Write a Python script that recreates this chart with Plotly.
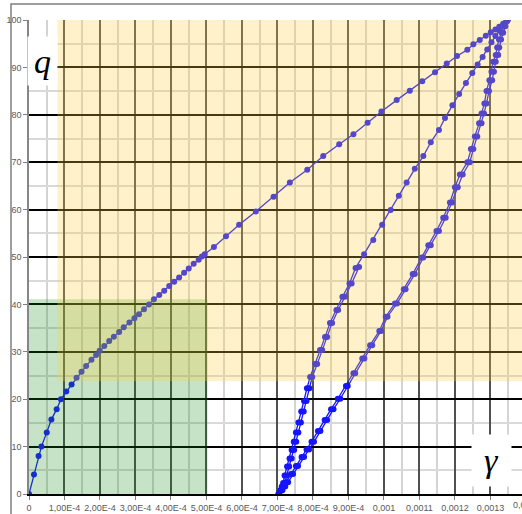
import numpy as np
import plotly.graph_objects as go

load_g = [0, 0.14, 0.27, 0.35, 0.50, 0.63, 0.78, 0.90, 1.05, 1.20, 1.34, 1.48, 1.61,
          1.76, 1.89, 1.99, 2.12, 2.26, 2.39, 2.54, 2.67, 2.83, 2.97, 3.10, 3.24, 3.38,
          3.52, 3.67, 3.81, 3.95, 4.09, 4.23, 4.37, 4.50, 4.64, 4.78, 4.87, 4.95, 5.21,
          5.55, 5.92, 6.39, 6.89, 7.35, 7.84, 8.29, 8.74, 9.14, 9.54, 9.93, 10.36, 10.73,
          11.08, 11.44, 11.77, 12.06, 12.35, 12.52, 12.70, 12.87, 13.01, 13.14, 13.25,
          13.36, 13.44, 13.48]
load_q = [0, 4.1, 8.0, 10.0, 13.0, 15.7, 17.9, 20.0, 21.6, 23.1, 24.5, 25.8, 27.0,
          28.3, 29.3, 30.2, 31.2, 32.3, 33.2, 34.2, 35.2, 36.2, 37.1, 37.9, 39.0, 40.0,
          41.1, 42.0, 42.9, 43.9, 44.8, 45.7, 46.7, 47.6, 48.6, 49.4, 50.1, 50.6, 52.1,
          54.4, 56.8, 59.6, 62.7, 65.7, 68.4, 71.3, 73.8, 75.9, 78.3, 80.7, 83.1, 85.1,
          87.1, 89.0, 90.8, 92.4, 93.7, 94.9, 95.8, 96.7, 97.4, 98.0, 98.6, 99.2, 99.6,
          99.9]

# outer (flatter) loop: unloading and reloading branches
outer_q = [0, 0.8, 1.6, 2.5, 4.2, 5.9, 7.8, 9.4, 11.0, 13.3, 15.6, 17.9, 20.1, 22.8,
           25.5, 28.6, 31.4, 34.4, 37.4, 40.2, 43.2, 46.4, 49.9, 52.5, 55.5, 58.3, 61.5,
           64.7, 67.4, 70.0, 72.8, 75.4, 78.2, 80.3, 82.4, 85.0, 87.3, 89.1, 91.2, 92.6,
           94.2, 95.9, 97.3, 98.7, 99.9]
outer_down_g = [7.03, 7.10, 7.17, 7.24, 7.38, 7.52, 7.68, 7.82, 7.96, 8.14, 8.33, 8.51,
                8.70, 8.93, 9.14, 9.39, 9.61, 9.87, 10.05, 10.31, 10.56, 10.81, 11.06,
                11.25, 11.48, 11.67, 11.86, 12.00, 12.14, 12.35, 12.45, 12.56, 12.68,
                12.75, 12.83, 12.89, 12.97, 13.03, 13.08, 13.15, 13.19, 13.24, 13.31,
                13.39, 13.48]
outer_up_g = [7.05, 7.14, 7.22, 7.30, 7.44, 7.58, 7.75, 7.89, 8.03, 8.21, 8.40, 8.58,
              8.77, 8.98, 9.19, 9.45, 9.67, 9.92, 10.10, 10.37, 10.61, 10.87, 11.11,
              11.32, 11.55, 11.74, 11.92, 12.08, 12.22, 12.42, 12.52, 12.63, 12.75,
              12.82, 12.89, 12.96, 13.05, 13.10, 13.15, 13.22, 13.25, 13.30, 13.36,
              13.42, 13.48]

# inner (steeper) branch: full pass and partial pass up to ~48
inner_g = [7.03, 7.08, 7.12, 7.16, 7.20, 7.27, 7.34, 7.40, 7.46, 7.52, 7.59, 7.67,
           7.75, 7.83, 7.92, 8.06, 8.20, 8.34, 8.48, 8.66, 8.83, 9.03, 9.20, 9.44, 9.70,
           9.95, 10.19, 10.42, 10.64, 10.87, 11.11, 11.32, 11.55, 11.72, 11.93, 12.12,
           12.31, 12.49, 12.64, 12.78, 12.91, 13.03, 13.14, 13.25, 13.35, 13.48]
inner_q = [0, 0.8, 1.6, 2.3, 3.9, 5.8, 7.5, 9.3, 11.0, 13.0, 15.1, 17.4, 19.6, 22.3,
           24.7, 27.4, 30.4, 33.1, 36.1, 38.8, 41.6, 44.4, 47.7, 50.6, 53.6, 56.8, 59.9,
           62.9, 65.7, 68.6, 71.3, 74.2, 76.8, 79.3, 82.0, 84.4, 86.7, 88.8, 90.6, 92.2,
           93.8, 95.3, 96.6, 97.8, 98.9, 99.9]
partial_g = [7.05, 7.11, 7.16, 7.21, 7.26, 7.33, 7.40, 7.47, 7.53, 7.59, 7.66, 7.74,
             7.82, 7.90, 7.98, 8.12, 8.26, 8.40, 8.54, 8.71, 8.90, 9.09, 9.30]
partial_q = [0, 0.8, 1.6, 2.3, 3.9, 5.8, 7.5, 9.3, 11.0, 13.0, 15.1, 17.4, 19.6, 22.3,
             24.7, 27.4, 30.4, 33.1, 36.1, 38.8, 41.6, 44.4, 47.9]

# shaded zones (gamma in 1e-4, q)
yellow_g = [0.8, 16.0]
yellow_q = [23.8, 100]
green_g = [0, 5.03]
green_q = [0, 41.1]

x_tickvals = [0, 0.0001, 0.0002, 0.0003, 0.0004, 0.0005, 0.0006, 0.0007, 0.0008,
              0.0009, 0.001, 0.0011, 0.0012, 0.0013]
x_ticktext = ["0", "1,00E-4", "2,00E-4", "3,00E-4", "4,00E-4", "5,00E-4", "6,00E-4",
              "7,00E-4", "8,00E-4", "9,00E-4", "0,001", "0,0011", "0,0012", "0,0013"]

BLUE = "#1414ff"
TICK_FONT = dict(family="Liberation Sans Narrow, Liberation Sans, Arial", size=9, color="#595959")

fig = go.Figure()

branches = [
    (load_g, load_q),
    (outer_down_g[::-1], outer_q[::-1]),
    (outer_up_g, outer_q),
    (inner_g[::-1], inner_q[::-1]),
    (partial_g, partial_q),
]
for g, q in branches:
    fig.add_trace(go.Scatter(
        x=np.array(g) * 1e-4,
        y=q,
        mode="lines+markers",
        line=dict(color=BLUE, width=1.3),
        marker=dict(color=BLUE, size=6),
        showlegend=False,
        hoverinfo="skip"
    ))

# translucent zones lie over the curves
fig.add_shape(type="rect", layer="above", line_width=0,
              x0=green_g[0] * 1e-4, x1=green_g[1] * 1e-4, y0=green_q[0], y1=green_q[1],
              fillcolor="rgba(20,140,20,0.24)")
fig.add_shape(type="rect", layer="above", line_width=0,
              x0=yellow_g[0] * 1e-4, x1=yellow_g[1] * 1e-4, y0=yellow_q[0], y1=yellow_q[1],
              fillcolor="rgba(255,205,60,0.28)")

# chart area border
fig.add_shape(type="rect", xref="paper", yref="paper", layer="below",
              x0=-0.0365, x1=1.2, y0=-0.2, y1=1.0338,
              line=dict(color="#7f7f7f", width=1.5), fillcolor="rgba(0,0,0,0)")

fig.add_annotation(xref="paper", yref="paper", x=0.0274, y=0.9135,
                   xanchor="center", yanchor="middle",
                   text="<i>q</i>", showarrow=False, bgcolor="white",
                   width=29, height=48, borderpad=0,
                   font=dict(family="Liberation Serif", size=34, color="black"))
fig.add_annotation(xref="paper", yref="paper", x=0.938, y=0.0707,
                   xanchor="center", yanchor="middle",
                   text="<i>γ</i>", showarrow=False, bgcolor="white",
                   width=39, height=51, borderpad=0,
                   font=dict(family="Liberation Serif", size=34, color="black"))
# next tick label, cut off by the window edge as in the source
fig.add_annotation(xref="paper", yref="paper", x=1.0101, y=-0.0232,
                   xanchor="center", yanchor="middle",
                   text="0,0014", showarrow=False, font=TICK_FONT)

fig.update_xaxes(
    range=[0, 0.001389],
    tickvals=x_tickvals,
    ticktext=x_ticktext,
    tickangle=0,
    showgrid=True, gridcolor="#505050", gridwidth=2,
    minor=dict(tickmode="linear", tick0=0, dtick=0.00005, showgrid=True,
               gridcolor="#d4d4d4", gridwidth=2),
    showline=True, linecolor="black", linewidth=2,
    ticks="outside", ticklen=4, tickcolor="#808080",
    tickfont=TICK_FONT,
    zeroline=False
)
fig.update_yaxes(
    range=[0, 100],
    tickmode="linear", tick0=0, dtick=10,
    showgrid=True, gridcolor="black", gridwidth=1.5,
    minor=dict(tickmode="linear", tick0=0, dtick=5, showgrid=True,
               gridcolor="#d9d9d9", gridwidth=2),
    showline=True, linecolor="#868686", linewidth=1.5,
    ticks="outside", ticklen=4, tickcolor="#808080",
    tickfont=TICK_FONT,
    zeroline=False
)

fig.update_layout(
    width=522, height=514,
    margin=dict(l=29, r=0, t=20, b=20),
    paper_bgcolor="white",
    plot_bgcolor="white",
    showlegend=False
)

# the page's default body margin would shift the chart by 8px
fig.write_html(
    "out.html",
    config={"displayModeBar": False},
    post_script="document.body.style.margin='0';document.body.style.overflow='hidden';"
)
